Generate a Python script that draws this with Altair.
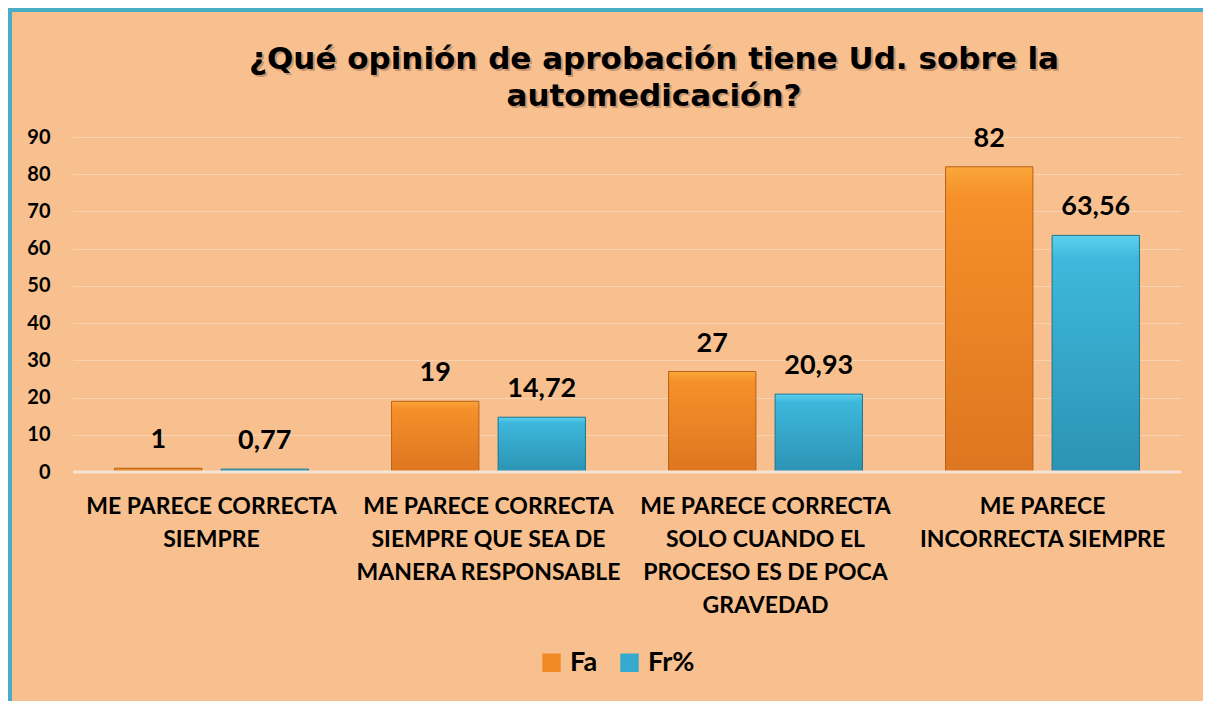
import altair as alt
import pandas as pd

categories = [
    "ME PARECE CORRECTA|SIEMPRE",
    "ME PARECE CORRECTA|SIEMPRE QUE SEA DE|MANERA RESPONSABLE",
    "ME PARECE CORRECTA|SOLO CUANDO EL|PROCESO ES DE POCA|GRAVEDAD",
    "ME PARECE|INCORRECTA SIEMPRE",
]
fa_values = [1, 19, 27, 82]
fr_values = [0.77, 14.72, 20.93, 63.56]
series = ["Fa", "Fr%"]
y_ticks = [0, 10, 20, 30, 40, 50, 60, 70, 80, 90]
title_lines = ["¿Qué opinión de aprobación tiene Ud. sobre la", "automedicación?"]

rows = []
for c, a, b in zip(categories, fa_values, fr_values):
    rows.append({"cat": c, "series": series[0], "value": a})
    rows.append({"cat": c, "series": series[1], "value": b})
df = pd.DataFrame(rows)

W, H = 1108, 335
FONT = "Lato"
BG = "#F9C08F"

x_enc = alt.X("cat:N", sort=categories,
              scale=alt.Scale(paddingInner=0.3, paddingOuter=0.15),
              axis=alt.Axis(title=None, labelAngle=0, labelExpr="split(datum.label, '|')",
                            labelFont=FONT, labelFontSize=23, labelFontWeight="bold",
                            labelColor="black", labelLineHeight=33, labelPadding=23,
                            domain=False, ticks=False, labelLimit=400))
y_enc = alt.Y("value:Q", scale=alt.Scale(domain=[0, 90], nice=False),
              axis=alt.Axis(title=None, values=y_ticks, labelFont=FONT, labelFontSize=20,
                            labelFontWeight="bold", labelColor="black", labelPadding=23,
                            labelOverlap=False, domain=False, ticks=False, grid=True,
                            gridColor="#FAD2AE", gridWidth=1))
xoff = alt.XOffset("series:N", sort=series,
                   scale=alt.Scale(domain=series, paddingInner=0.18, paddingOuter=0))

base = alt.Chart(df)

frame = alt.Chart(pd.DataFrame({"a": [0]})).mark_rect(
    fillOpacity=0, stroke="#4BACC6", strokeWidth=4
).encode(x=alt.value(-63), x2=alt.value(1132), y=alt.value(-127), y2=alt.value(700))

zero = alt.Chart(pd.DataFrame({"value": [0]})).mark_rule(color="#F6E3D3", strokeWidth=3).encode(
    y=y_enc, x=alt.value(0), x2=alt.value(W))

flat = base.mark_bar().encode(
    x=x_enc, y=y_enc, xOffset=xoff,
    color=alt.Color("series:N", sort=series,
                    scale=alt.Scale(domain=series, range=["#F18A24", "#34AACF"]),
                    legend=alt.Legend(title=None, orient="none", direction="horizontal",
                                      legendX=465, legendY=512, symbolType="square",
                                      symbolSize=340, symbolStrokeWidth=1,
                                      labelFont=FONT, labelFontSize=27, labelFontWeight="bold",
                                      labelColor="black", columnPadding=18, labelOffset=5)),
)

grad_o = alt.Gradient(gradient="linear", x1=0, x2=0, y1=0, y2=1,
                      stops=[alt.GradientStop(color="#FBA73A", offset=0),
                             alt.GradientStop(color="#F5902A", offset=0.1),
                             alt.GradientStop(color="#DD7620", offset=1)])
grad_b = alt.Gradient(gradient="linear", x1=0, x2=0, y1=0, y2=1,
                      stops=[alt.GradientStop(color="#5FD0EC", offset=0),
                             alt.GradientStop(color="#3DB8DC", offset=0.1),
                             alt.GradientStop(color="#2C93B3", offset=1)])

bars_o = base.transform_filter(alt.datum.series == "Fa").mark_bar(
    fill=grad_o, stroke="#B8621A", strokeWidth=1).encode(x=x_enc, y=y_enc, xOffset=xoff)
bars_b = base.transform_filter(alt.datum.series == "Fr%").mark_bar(
    fill=grad_b, stroke="#23758F", strokeWidth=1).encode(x=x_enc, y=y_enc, xOffset=xoff)

labels = base.transform_calculate(
    lbl="replace(toString(datum.value), '.', ',')"
).mark_text(font=FONT, fontSize=27, fontWeight="bold", color="black", dy=-28,
            baseline="middle").encode(x=x_enc, y=y_enc, xOffset=xoff, text="lbl:N")

title_shadow = alt.Chart(pd.DataFrame({"a": [0]})).mark_text(
    text=title_lines, font="DejaVu Sans", fontSize=31, fontWeight="bold",
    lineHeight=37, color="#8A6048", opacity=0.45, baseline="middle",
    align="center").encode(x=alt.value(583), y=alt.value(-75))
title = alt.Chart(pd.DataFrame({"a": [0]})).mark_text(
    text=title_lines, font="DejaVu Sans", fontSize=31, fontWeight="bold",
    lineHeight=37, color="black", baseline="middle",
    align="center").encode(x=alt.value(581), y=alt.value(-77))

chart = alt.layer(frame, flat, bars_o, bars_b, zero, labels, title_shadow, title).properties(
    width=W, height=H,
    autosize=alt.AutoSizeParams(type="none"),
    padding={"left": 65, "top": 129, "right": 22, "bottom": 229},
).configure(background=BG).configure_view(stroke=None)

chart.save("out.html", embed_options={"renderer": "svg", "actions": False})
